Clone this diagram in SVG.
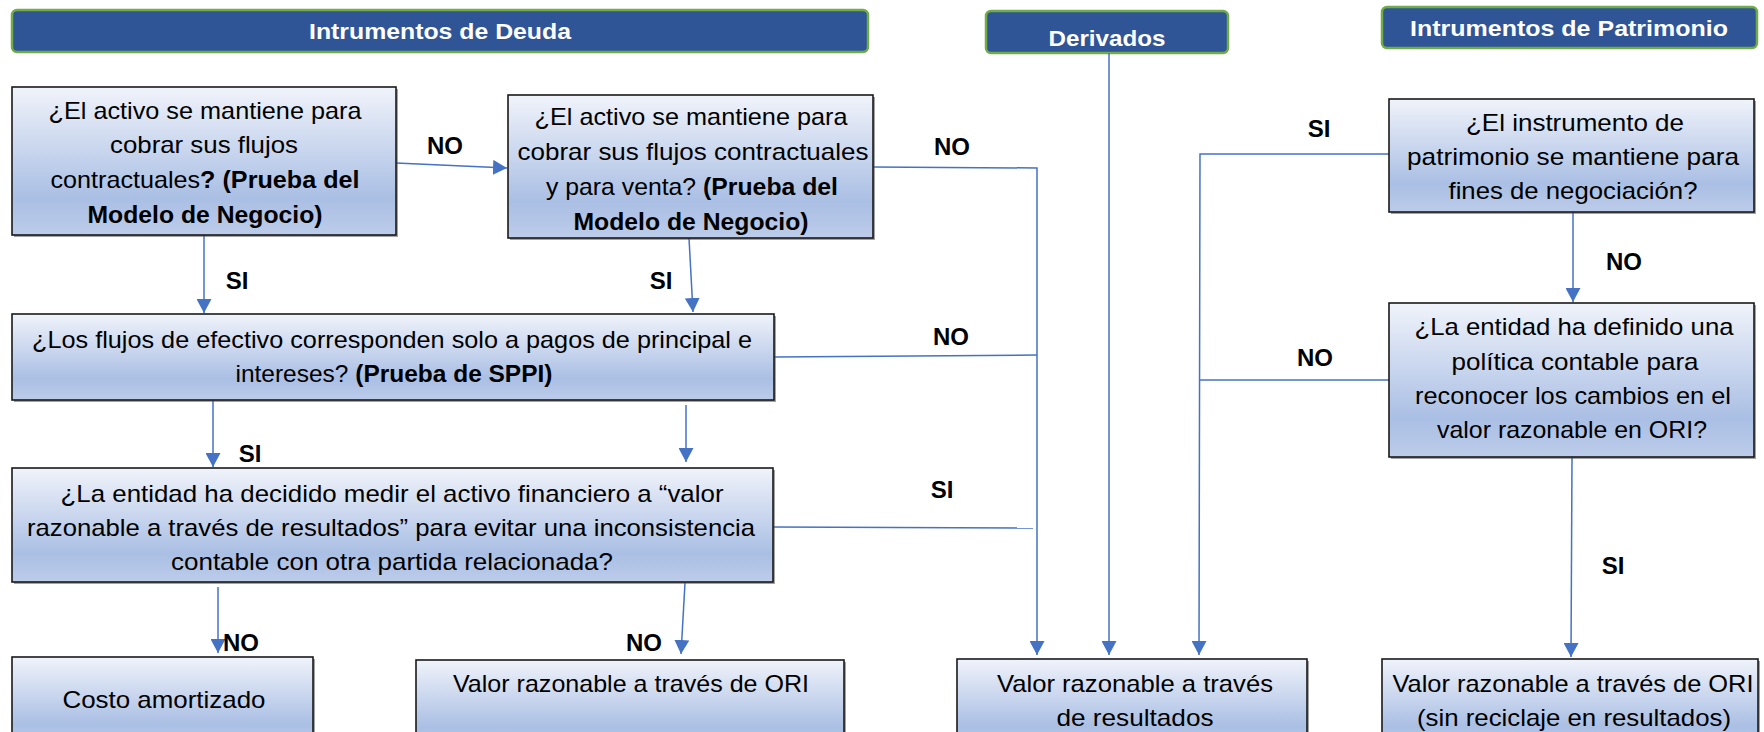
<svg xmlns="http://www.w3.org/2000/svg" width="1764" height="732" viewBox="0 0 1764 732">
<style>
.hdr{fill:#2F5597;stroke:#70AD47;stroke-width:2.5}
.hdrt{fill:#fff;font-family:"Liberation Sans",Arial,sans-serif;font-weight:bold;font-size:22px;text-anchor:middle}
.box{fill:url(#g);stroke:#1a1a1a;stroke-width:1.6}
.sh{fill:#555;opacity:0.55}
.t{font-family:"Liberation Sans",Arial,sans-serif;font-size:24px;fill:#000;text-anchor:middle}
.b{font-weight:bold}
.lbl{font-family:"Liberation Sans",Arial,sans-serif;font-size:24px;font-weight:bold;fill:#000;text-anchor:middle}
.c{fill:none;stroke:#4472C4;stroke-width:1.5}
.a{marker-end:url(#ar)}
</style>
<defs>
<linearGradient id="g" x1="0" y1="0" x2="0" y2="1">
<stop offset="0" stop-color="#F0F3FA"/>
<stop offset="0.75" stop-color="#AABFE4"/>
<stop offset="1" stop-color="#BCCCEA"/>
</linearGradient>
<marker id="ar" markerUnits="userSpaceOnUse" markerWidth="15" markerHeight="15" refX="14" refY="7.5" orient="auto">
<path d="M0,0 L14,7.5 L0,15 z" fill="#4472C4"/>
</marker>
</defs>
<rect width="1764" height="732" fill="#fff"/>

<g id="hdr-deuda">
<rect class="hdr" x="12" y="10" width="856" height="42" rx="5"/>
<text class="hdrt" x="440" y="39" textLength="262" lengthAdjust="spacingAndGlyphs">Intrumentos de Deuda</text>
</g>
<g id="hdr-derivados">
<rect class="hdr" x="986" y="11" width="242" height="42" rx="5"/>
<text class="hdrt" x="1107" y="46" textLength="117" lengthAdjust="spacingAndGlyphs">Derivados</text>
</g>
<g id="hdr-patrimonio">
<rect class="hdr" x="1382" y="7" width="375" height="41" rx="5"/>
<text class="hdrt" x="1569" y="36" textLength="318" lengthAdjust="spacingAndGlyphs">Intrumentos de Patrimonio</text>
</g>

<g id="connectors">
<line class="c a" x1="396" y1="163" x2="507" y2="168"/>
<line class="c a" x1="204" y1="235" x2="204" y2="313"/>
<line class="c a" x1="689" y1="238" x2="693" y2="312"/>
<polyline class="c a" points="873,167 1037,168 1037,655"/>
<line class="c" x1="774" y1="357" x2="1037" y2="355"/>
<line class="c a" x1="213" y1="400" x2="213" y2="467"/>
<line class="c a" x1="686" y1="405" x2="686" y2="462"/>
<line class="c" x1="773" y1="527" x2="1033" y2="528"/>
<line class="c a" x1="218" y1="587" x2="218" y2="653"/>
<line class="c a" x1="685" y1="583" x2="681" y2="654"/>
<line class="c a" x1="1109" y1="53" x2="1109" y2="655"/>
<polyline class="c a" points="1389,154 1200,154 1199,655"/>
<line class="c a" x1="1573" y1="212" x2="1573" y2="302"/>
<line class="c" x1="1389" y1="380" x2="1200" y2="380"/>
<line class="c a" x1="1572" y1="457" x2="1571" y2="657"/>
<text class="lbl" x="445" y="154">NO</text>
<text class="lbl" x="237" y="289">SI</text>
<text class="lbl" x="661" y="289">SI</text>
<text class="lbl" x="952" y="155">NO</text>
<text class="lbl" x="951" y="345">NO</text>
<text class="lbl" x="250" y="462">SI</text>
<text class="lbl" x="942" y="498">SI</text>
<text class="lbl" x="241" y="651">NO</text>
<text class="lbl" x="644" y="651">NO</text>
<text class="lbl" x="1319" y="137">SI</text>
<text class="lbl" x="1624" y="270">NO</text>
<text class="lbl" x="1315" y="366">NO</text>
<text class="lbl" x="1613" y="574">SI</text>
</g>

<g id="q-cobrar">
<rect class="sh" x="14" y="89" width="384" height="148"/>
<rect class="box" x="12" y="87" width="384" height="148"/>
<text class="t" x="205" y="119" textLength="313" lengthAdjust="spacingAndGlyphs">¿El activo se mantiene para</text>
<text class="t" x="204" y="153" textLength="188" lengthAdjust="spacingAndGlyphs">cobrar sus flujos</text>
<text class="t" x="205" y="188" textLength="309" lengthAdjust="spacingAndGlyphs">contractuales<tspan class="b">? (Prueba del</tspan></text>
<text class="t b" x="205" y="223" textLength="235" lengthAdjust="spacingAndGlyphs">Modelo de Negocio)</text>
</g>

<g id="q-cobrar-venta">
<rect class="sh" x="510" y="97" width="365" height="143"/>
<rect class="box" x="508" y="95" width="365" height="143"/>
<text class="t" x="691" y="125" textLength="313" lengthAdjust="spacingAndGlyphs">¿El activo se mantiene para</text>
<text class="t" x="693" y="160" textLength="351" lengthAdjust="spacingAndGlyphs">cobrar sus flujos contractuales</text>
<text class="t" x="692" y="195" textLength="292" lengthAdjust="spacingAndGlyphs">y para venta? <tspan class="b">(Prueba del</tspan></text>
<text class="t b" x="691" y="230" textLength="235" lengthAdjust="spacingAndGlyphs">Modelo de Negocio)</text>
</g>

<g id="q-sppi">
<rect class="sh" x="14" y="316" width="762" height="86"/>
<rect class="box" x="12" y="314" width="762" height="86"/>
<text class="t" x="392" y="348" textLength="720" lengthAdjust="spacingAndGlyphs">¿Los flujos de efectivo corresponden solo a pagos de principal e</text>
<text class="t" x="394" y="382" textLength="317" lengthAdjust="spacingAndGlyphs">intereses? <tspan class="b">(Prueba de SPPI)</tspan></text>
</g>

<g id="q-valor-razonable">
<rect class="sh" x="14" y="470" width="761" height="114"/>
<rect class="box" x="12" y="468" width="761" height="114"/>
<text class="t" x="392" y="502" textLength="663" lengthAdjust="spacingAndGlyphs">¿La entidad ha decidido medir el activo financiero a “valor</text>
<text class="t" x="391" y="536" textLength="728" lengthAdjust="spacingAndGlyphs">razonable a través de resultados” para evitar una inconsistencia</text>
<text class="t" x="392" y="570" textLength="442" lengthAdjust="spacingAndGlyphs">contable con otra partida relacionada?</text>
</g>

<g id="r-costo">
<rect class="sh" x="14" y="659" width="301" height="90"/>
<rect class="box" x="12" y="657" width="301" height="90"/>
<text class="t" x="164" y="708" textLength="203" lengthAdjust="spacingAndGlyphs">Costo amortizado</text>
</g>

<g id="r-ori">
<rect class="sh" x="418" y="662" width="428" height="90"/>
<rect class="box" x="416" y="660" width="428" height="90"/>
<text class="t" x="631" y="692" textLength="356" lengthAdjust="spacingAndGlyphs">Valor razonable a través de ORI</text>
</g>

<g id="r-resultados">
<rect class="sh" x="959" y="661" width="350" height="90"/>
<rect class="box" x="957" y="659" width="350" height="90"/>
<text class="t" x="1135" y="692" textLength="276" lengthAdjust="spacingAndGlyphs">Valor razonable a través</text>
<text class="t" x="1135" y="726" textLength="157" lengthAdjust="spacingAndGlyphs">de resultados</text>
</g>

<g id="q-negociacion">
<rect class="sh" x="1391" y="101" width="365" height="113"/>
<rect class="box" x="1389" y="99" width="365" height="113"/>
<text class="t" x="1575" y="131" textLength="218" lengthAdjust="spacingAndGlyphs">¿El instrumento de</text>
<text class="t" x="1573" y="165" textLength="332" lengthAdjust="spacingAndGlyphs">patrimonio se mantiene para</text>
<text class="t" x="1573" y="199" textLength="249" lengthAdjust="spacingAndGlyphs">fines de negociación?</text>
</g>

<g id="q-politica">
<rect class="sh" x="1391" y="305" width="365" height="154"/>
<rect class="box" x="1389" y="303" width="365" height="154"/>
<text class="t" x="1574" y="335" textLength="319" lengthAdjust="spacingAndGlyphs">¿La entidad ha definido una</text>
<text class="t" x="1575" y="370" textLength="247" lengthAdjust="spacingAndGlyphs">política contable para</text>
<text class="t" x="1573" y="404" textLength="316" lengthAdjust="spacingAndGlyphs">reconocer los cambios en el</text>
<text class="t" x="1572" y="438" textLength="270" lengthAdjust="spacingAndGlyphs">valor razonable en ORI?</text>
</g>

<g id="r-ori-patrimonio">
<rect class="sh" x="1384" y="661" width="376" height="90"/>
<rect class="box" x="1382" y="659" width="376" height="90"/>
<text class="t" x="1573" y="692" textLength="361" lengthAdjust="spacingAndGlyphs">Valor razonable a través de ORI</text>
<text class="t" x="1574" y="726" textLength="314" lengthAdjust="spacingAndGlyphs">(sin reciclaje en resultados)</text>
</g>
</svg>
